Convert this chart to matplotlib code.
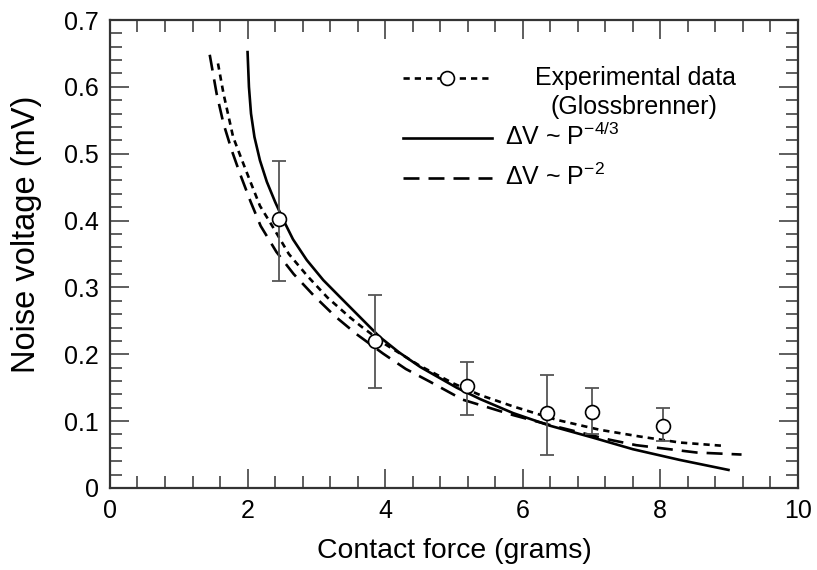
import matplotlib
matplotlib.use("Agg")
import matplotlib.pyplot as plt
from matplotlib.ticker import MultipleLocator, FixedLocator, FixedFormatter

plt.rcParams['font.family'] = ['Liberation Sans', 'DejaVu Sans']
plt.rcParams['mathtext.fontset'] = 'custom'
plt.rcParams['mathtext.rm'] = 'Liberation Sans'
plt.rcParams['mathtext.it'] = 'Liberation Sans:italic'
plt.rcParams['mathtext.default'] = 'regular'
plt.rcParams['lines.scale_dashes'] = False

# ---------------- data ----------------
exp_force = [2.46, 3.85, 5.19, 6.35, 7.00, 8.04]
exp_noise = [0.402, 0.220, 0.153, 0.112, 0.113, 0.092]
exp_low = [0.310, 0.149, 0.109, 0.049, 0.080, 0.070]
exp_high = [0.489, 0.289, 0.189, 0.169, 0.150, 0.119]

# short-dashed curve through the experimental data
exp_curve_force = [1.57, 1.65, 1.79, 1.92, 2.03, 2.18, 2.37, 2.60, 2.87, 3.16, 3.49,
                   3.66, 4.00, 4.50, 5.00, 5.38, 5.86, 6.49, 7.12, 7.70, 8.28, 8.92]
exp_curve_noise = [0.635, 0.590, 0.525, 0.490, 0.461, 0.422, 0.390, 0.350, 0.317, 0.285, 0.255,
                   0.241, 0.215, 0.183, 0.156, 0.139, 0.122, 0.102, 0.087, 0.077, 0.068, 0.063]

# solid curve: dV ~ P^-4/3
p43_force = [2.00, 2.02, 2.05, 2.10, 2.18, 2.28, 2.40, 2.52, 2.66, 2.86, 3.10, 3.34,
             3.63, 3.92, 4.20, 4.51, 5.04, 5.38, 5.86, 6.40, 7.03, 7.60, 8.28, 8.99]
p43_noise = [0.652, 0.600, 0.560, 0.525, 0.490, 0.458, 0.428, 0.401, 0.372, 0.341, 0.311, 0.286,
             0.256, 0.226, 0.203, 0.181, 0.150, 0.133, 0.112, 0.093, 0.075, 0.058, 0.042, 0.027]

# long-dashed curve: dV ~ P^-2
p2_force = [1.45, 1.55, 1.65, 1.77, 1.89, 2.045, 2.19, 2.42, 2.67, 2.97, 3.27, 3.585,
            3.97, 4.30, 4.65, 5.13, 5.86, 6.40, 7.27, 7.65, 8.53, 9.18]
p2_noise = [0.648, 0.590, 0.545, 0.505, 0.470, 0.428, 0.392, 0.353, 0.320, 0.287, 0.257, 0.230,
            0.201, 0.178, 0.159, 0.132, 0.109, 0.094, 0.072, 0.064, 0.053, 0.050]

x_ticks = [0, 2, 4, 6, 8, 10]
x_tick_labels = ['0', '2', '4', '6', '8', '10']
y_ticks = [0, 0.1, 0.2, 0.3, 0.4, 0.5, 0.6, 0.7]
y_tick_labels = ['0', '0.1', '0.2', '0.3', '0.4', '0.5', '0.6', '0.7']

legend_labels = ['Experimental data', '(Glossbrenner)',
                 r'ΔV ~ P$^{-4/3}$', r'ΔV ~ P$^{-2}$']

# ---------------- styles ----------------
LW = 1.9
SHORT = (4.5, 3.6)
LONG = (11.5, 6.5)
FS_TICK = 18
FS_XLAB = 20.4
FS_YLAB = 23.5
FS_LEG = 18
SPINE = '#333333'

fig = plt.figure(figsize=(8.17, 5.70), dpi=100)
ax = fig.add_axes([0.1346, 0.1439, 0.8421, 0.8210])

ax.plot(exp_curve_force, exp_curve_noise, color='k', lw=LW, dashes=SHORT)
ax.plot(p43_force, p43_noise, color='k', lw=LW)
ax.plot(p2_force, p2_noise, color='k', lw=LW, dashes=LONG)

yerr = [[y - lo for y, lo in zip(exp_noise, exp_low)],
        [hi - y for y, hi in zip(exp_noise, exp_high)]]
ax.errorbar(exp_force, exp_noise, yerr=yerr, fmt='none', ecolor='#555555',
            elinewidth=1.3, capsize=5, capthick=1.3, zorder=3)
ax.plot(exp_force, exp_noise, 'o', mfc='white', mec='k', ms=10, mew=1.2, zorder=5)

ax.set_xlim(0, 10)
ax.set_ylim(0, 0.7)
ax.xaxis.set_major_locator(FixedLocator(x_ticks))
ax.xaxis.set_major_formatter(FixedFormatter(x_tick_labels))
ax.yaxis.set_major_locator(FixedLocator(y_ticks))
ax.yaxis.set_major_formatter(FixedFormatter(y_tick_labels))
ax.xaxis.set_minor_locator(MultipleLocator(0.4))
ax.yaxis.set_minor_locator(MultipleLocator(0.02))
ax.tick_params(which='both', direction='in', top=True, right=True, color=SPINE, width=1.1)
ax.tick_params(which='major', length=14, labelsize=FS_TICK, pad=8)
ax.tick_params(which='minor', length=8.5)
for s in ax.spines.values():
    s.set_linewidth(1.6)
    s.set_color(SPINE)

ax.set_xlabel('Contact force (grams)', fontsize=FS_XLAB, labelpad=11)
ax.set_ylabel('Noise voltage (mV)', fontsize=FS_YLAB)
ax.yaxis.set_label_coords(-0.099, 0.541)

# ---------------- legend (drawn by hand, no frame) ----------------
T = ax.transAxes
hx0, hx1 = 0.426, 0.555
ax.plot([hx0, hx1], [0.876, 0.876], transform=T, color='k', lw=LW, dashes=SHORT)
ax.plot([(hx0 + hx1) / 2], [0.876], 'o', transform=T, mfc='white', mec='k', ms=10, mew=1.2)
ax.plot([hx0, hx1], [0.748, 0.748], transform=T, color='k', lw=LW)
ax.plot([hx0, hx1], [0.662, 0.662], transform=T, color='k', lw=LW, dashes=LONG)
ax.text(0.618, 0.861, legend_labels[0], transform=T, fontsize=FS_LEG, va='baseline')
ax.text(0.641, 0.799, legend_labels[1], transform=T, fontsize=FS_LEG, va='baseline')
ax.text(0.574, 0.733, legend_labels[2], transform=T, fontsize=FS_LEG, va='baseline')
ax.text(0.574, 0.647, legend_labels[3], transform=T, fontsize=FS_LEG, va='baseline')

fig.savefig('out.png', dpi=100)
